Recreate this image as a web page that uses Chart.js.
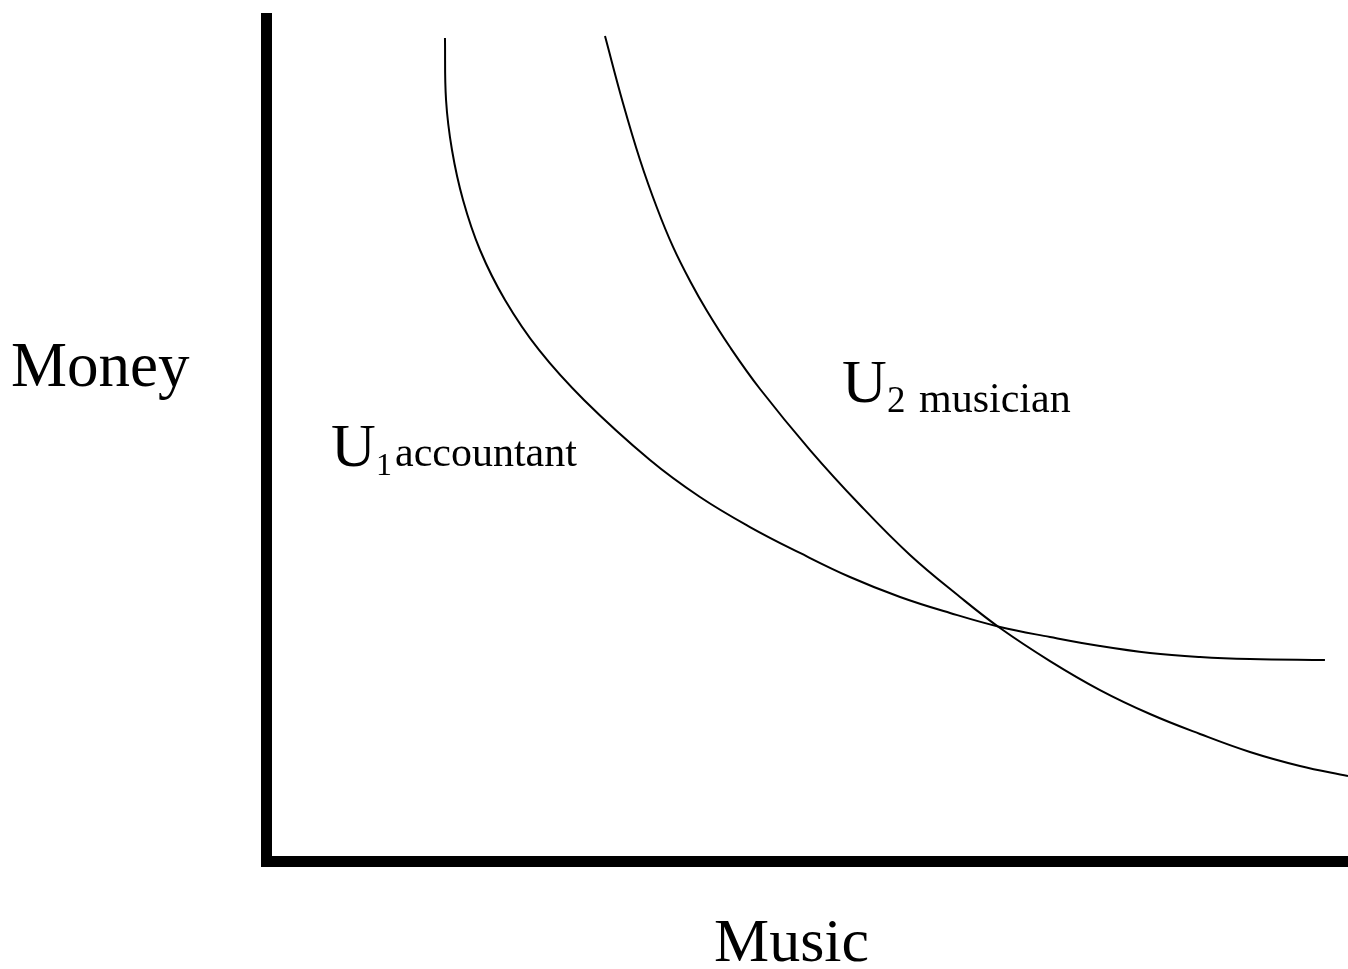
<!DOCTYPE html>
<html><head><meta charset="utf-8">
<script src="https://cdn.jsdelivr.net/npm/chart.js@4/dist/chart.umd.min.js"></script>
<style>html,body{margin:0;padding:0;background:#fff;overflow:hidden}</style>
</head><body>
<canvas id="c" width="1348" height="969" style="display:block;width:1348px;height:969px"></canvas>
<script>
// Indifference curve U1 (accountant)
const u1X = [16.54, 16.64, 17.19, 18.21, 19.78, 22.09, 25.23, 29.39, 35.49, 40.11, 44.73, 49.35, 53.97, 58.60, 63.22, 67.84, 72.46, 77.08, 81.70, 86.32, 90.94, 97.87];
const u1Y = [97.63, 90.27, 84.34, 78.41, 72.48, 66.55, 60.62, 54.69, 47.57, 43.18, 39.62, 36.54, 33.69, 31.32, 29.42, 27.76, 26.57, 25.50, 24.67, 24.20, 23.96, 23.84];
// Indifference curve U2 (musician)
const u2X = [31.33, 32.99, 34.57, 36.14, 37.62, 39.19, 40.76, 42.88, 45.66, 50.28, 54.90, 59.52, 64.14, 67.84, 72.46, 77.08, 81.70, 86.32, 90.94, 95.56, 100.0];
const u2Y = [97.86, 89.92, 83.16, 77.46, 72.84, 68.80, 65.24, 60.97, 55.99, 48.75, 42.23, 36.30, 31.32, 27.64, 23.72, 20.28, 17.44, 15.07, 12.93, 11.27, 10.08];

const axisXTitle = 'Music';
const axisYTitle = 'Money';
const u1Label = {main: 'U', sub: '1', text: 'accountant'};
const u2Label = {main: 'U', sub: '2', text: 'musician'};

const toPts = (xs, ys) => xs.map((x, i) => ({x: x, y: ys[i]}));

const SERIF = '"Liberation Serif", "Times New Roman", serif';

const textPlugin = {
  id: 'texts',
  afterDraw(chart) {
    const ctx = chart.ctx;
    ctx.save();
    ctx.fillStyle = '#000';
    ctx.textBaseline = 'alphabetic';
    ctx.textAlign = 'left';
    ctx.font = '63px ' + SERIF;
    ctx.fillText(axisYTitle, 11, 386);
    ctx.font = '62px ' + SERIF;
    ctx.fillText(axisXTitle, 714, 961);
    // U1 accountant
    ctx.font = '62px ' + SERIF;
    ctx.fillText(u1Label.main, 331, 466);
    ctx.font = '32px ' + SERIF;
    ctx.fillText(u1Label.sub, 376, 475);
    ctx.font = '42px ' + SERIF;
    ctx.fillText(u1Label.text, 395, 466);
    // U2 musician
    ctx.font = '62px ' + SERIF;
    ctx.fillText(u2Label.main, 842, 402);
    ctx.font = '37px ' + SERIF;
    ctx.fillText(u2Label.sub, 887, 412);
    ctx.font = '42px ' + SERIF;
    ctx.fillText(u2Label.text, 919, 412);
    ctx.restore();
  }
};

const lineStyle = {showLine: true, borderColor: '#000', borderWidth: 2, pointRadius: 0, tension: 0.4, cubicInterpolationMode: 'default', fill: false};

new Chart(document.getElementById('c'), {
  type: 'scatter',
  data: {
    datasets: [
      Object.assign({label: 'U1 accountant', data: toPts(u1X, u1Y)}, lineStyle),
      Object.assign({label: 'U2 musician', data: toPts(u2X, u2Y)}, lineStyle)
    ]
  },
  options: {
    responsive: false,
    animation: false,
    devicePixelRatio: 1,
    layout: {autoPadding: false, padding: {left: 266, top: 18, right: 0, bottom: 108}},
    plugins: {legend: {display: false}, tooltip: {enabled: false}, title: {display: false}},
    scales: {
      x: {type: 'linear', min: 0, max: 100,
          grid: {display: false, drawTicks: false},
          ticks: {display: false},
          border: {display: true, width: 11, color: '#000'}},
      y: {type: 'linear', min: 0, max: 100,
          grid: {display: false, drawTicks: false},
          ticks: {display: false},
          border: {display: true, width: 11, color: '#000'}}
    }
  },
  plugins: [textPlugin]
});
</script>
</body></html>
